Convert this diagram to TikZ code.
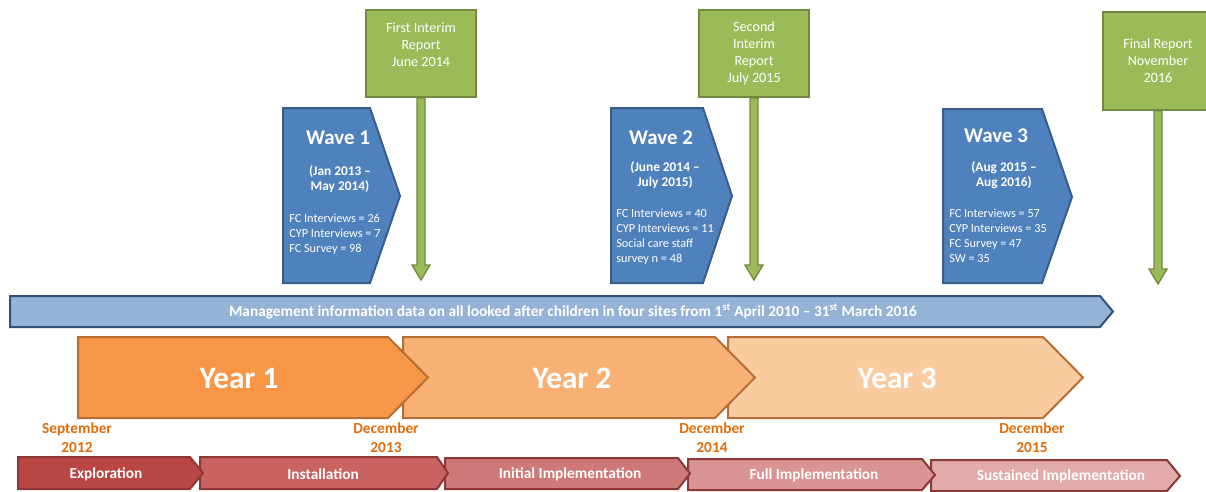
\documentclass[tikz,border=0pt]{standalone}
\usepackage{fontspec}
\setmainfont{Carlito}
\usetikzlibrary{calc}
\definecolor{repgreen}{RGB}{155,187,89}
\definecolor{repedge}{RGB}{113,137,63}
\definecolor{waveblue}{RGB}{79,129,189}
\definecolor{waveedge}{RGB}{56,93,138}
\definecolor{mifill}{RGB}{149,179,215}
\definecolor{miedge}{RGB}{52,82,118}
\definecolor{yearone}{RGB}{247,150,70}
\definecolor{yeartwo}{RGB}{249,176,116}
\definecolor{yearthree}{RGB}{251,203,160}
\definecolor{yearedge}{RGB}{182,110,52}
\definecolor{dateorange}{RGB}{227,108,10}
\definecolor{phaseone}{RGB}{185,69,69}
\definecolor{phasetwo}{RGB}{200,99,98}
\definecolor{phasethree}{RGB}{206,121,119}
\definecolor{phasefour}{RGB}{217,148,147}
\definecolor{phasefive}{RGB}{226,170,169}
\definecolor{phaseedge}{RGB}{140,56,54}
\tikzstyle{report} = [rectangle, draw=repedge, fill=repgreen, line width=1.5pt, minimum width=82.5pt, minimum height=65pt, text=white, align=center, inner sep=0pt, font=\fontsize{10.6}{12.75}\selectfont]
\tikzstyle{stem} = [draw=repedge, fill=repgreen, line width=1pt]
\tikzstyle{wave} = [draw=waveedge, fill=waveblue, line width=1.5pt]
\tikzstyle{wavetitle} = [text=white, inner sep=0pt, font=\fontsize{15.7}{18}\selectfont\bfseries]
\tikzstyle{wavedate} = [text=white, align=center, inner sep=0pt, font=\fontsize{10}{11.2}\selectfont\bfseries]
\tikzstyle{wavestats} = [text=white, align=left, anchor=north west, inner sep=0pt, font=\fontsize{9.2}{11.3}\selectfont]
\tikzstyle{mibar} = [draw=miedge, fill=mifill, line width=1.5pt]
\tikzstyle{year} = [draw=yearedge, line width=1.5pt]
\tikzstyle{yeartext} = [text=white, inner sep=0pt, font=\fontsize{23.4}{27}\selectfont\bfseries]
\tikzstyle{datelabel} = [text=dateorange, align=center, inner sep=0pt, font=\fontsize{11.5}{13.8}\selectfont\bfseries]
\tikzstyle{phase} = [draw=phaseedge, line width=1.5pt]
\tikzstyle{phasetext} = [text=white, inner sep=0pt, font=\fontsize{11.5}{13}\selectfont\bfseries]

\begin{document}
\begin{tikzpicture}[x=0.75pt, y=-0.75pt]
\useasboundingbox (0,0) rectangle (1206,492);

% report stems
\coordinate (tip1) at (421,280);
\coordinate (tip2) at (754,280);
\coordinate (tip3) at (1158,284);
\node (rep1) [report] at (421,53.5) {};
\node (rep2) [report] at (754,53.5) {};
\node (rep3) [report, minimum height=73pt] at (1158,61) {};
\foreach \r/\t in {rep1/tip1, rep2/tip2, rep3/tip3}
  \draw [stem] ($(\r.south)+(-4,0)$) -- ($(\t)+(-4,-15)$) -- ($(\t)+(-9,-15)$) -- (\t) -- ($(\t)+(9,-15)$) -- ($(\t)+(4,-15)$) -- ($(\r.south)+(4,0)$) -- cycle;
\node (rep1) [report] at (421,53.5) {First Interim\\Report\\June 2014\\ \mbox{}};
\node (rep2) [report] at (754,53.5) {Second\\Interim\\Report\\July 2015};
\node (rep3) [report, minimum height=73pt] at (1158,61) {Final Report\\November\\2016};

% waves
\draw [wave] (283,108) -- (370,108) -- (400,196) -- (370,283) -- (283,283) -- cycle;
\node (wave1) [wavetitle] at (338,138) {Wave 1};
\node (wave1date) [wavedate] at (340,179) {(Jan 2013 –\\May 2014)};
\node (wave1stats) [wavestats] at (289,213.5) {FC Interviews = 26\\CYP Interviews = 7\\FC Survey = 98};

\draw [wave] (611,108) -- (703,108) -- (732,196) -- (703,283) -- (611,283) -- cycle;
\node (wave2) [wavetitle] at (661,138) {Wave 2};
\node (wave2date) [wavedate] at (665,175) {(June 2014 –\\July 2015)};
\node (wave2stats) [wavestats] at (616,208.5) {FC Interviews = 40\\CYP Interviews = 11\\Social care staff\\survey n = 48};

\draw [wave] (943,109) -- (1042,109) -- (1072,197) -- (1042,283) -- (943,283) -- cycle;
\node (wave3) [wavetitle] at (996,136) {Wave 3};
\node (wave3date) [wavedate] at (1004,175) {(Aug 2015 –\\Aug 2016)};
\node (wave3stats) [wavestats] at (949,208.5) {FC Interviews = 57\\CYP Interviews = 35\\FC Survey = 47\\SW = 35};

% management information bar
\draw [mibar] (10,296) -- (1100,296) -- (1113,311.5) -- (1100,327) -- (10,327) -- cycle;
\node (mi) [text=white, inner sep=0pt, font=\fontsize{11.5}{13}\selectfont\bfseries] at (573,311.5) {Management information data on all looked after children in four sites from 1\textsuperscript{st} April 2010 – 31\textsuperscript{st} March 2016};

% years
\draw [year, fill=yearthree] (728,337) -- (1043,337) -- (1083,377.5) -- (1043,418) -- (728,418) -- cycle;
\draw [year, fill=yeartwo] (403,337) -- (715,337) -- (755,377.5) -- (715,418) -- (403,418) -- cycle;
\draw [year, fill=yearone] (78,337) -- (388,337) -- (428,377.5) -- (388,418) -- (78,418) -- cycle;
\node (year1) [yeartext] at (239,378) {Year 1};
\node (year2) [yeartext] at (572,378) {Year 2};
\node (year3) [yeartext] at (897,378) {Year 3};

% dates
\node (sep12) [datelabel] at (77,437.5) {September\\2012};
\node (dec13) [datelabel] at (386,437.5) {December\\2013};
\node (dec14) [datelabel] at (712,437.5) {December\\2014};
\node (dec15) [datelabel] at (1032,437.5) {December\\2015};

% implementation phases
\draw [phase, fill=phasefive] (931,460) -- (1167,460) -- (1180,476) -- (1167,491) -- (931,491) -- cycle;
\draw [phase, fill=phasefour] (688,459) -- (922,459) -- (935,475) -- (922,490) -- (688,490) -- cycle;
\draw [phase, fill=phasethree] (445,458) -- (678,458) -- (690,473.5) -- (678,489) -- (445,489) -- cycle;
\draw [phase, fill=phasetwo] (200,457) -- (437,457) -- (448,473) -- (437,489) -- (200,489) -- cycle;
\draw [phase, fill=phaseone] (18,457) -- (190,457) -- (203,473) -- (190,489) -- (18,489) -- cycle;
\node (explore) [phasetext] at (106,474) {Exploration};
\node (install) [phasetext] at (323,474) {Installation};
\node (initial) [phasetext] at (570,474.5) {Initial Implementation};
\node (full) [phasetext] at (814,475.5) {Full Implementation};
\node (sustain) [phasetext] at (1061,476.5) {Sustained Implementation};
\end{tikzpicture}
\end{document}
